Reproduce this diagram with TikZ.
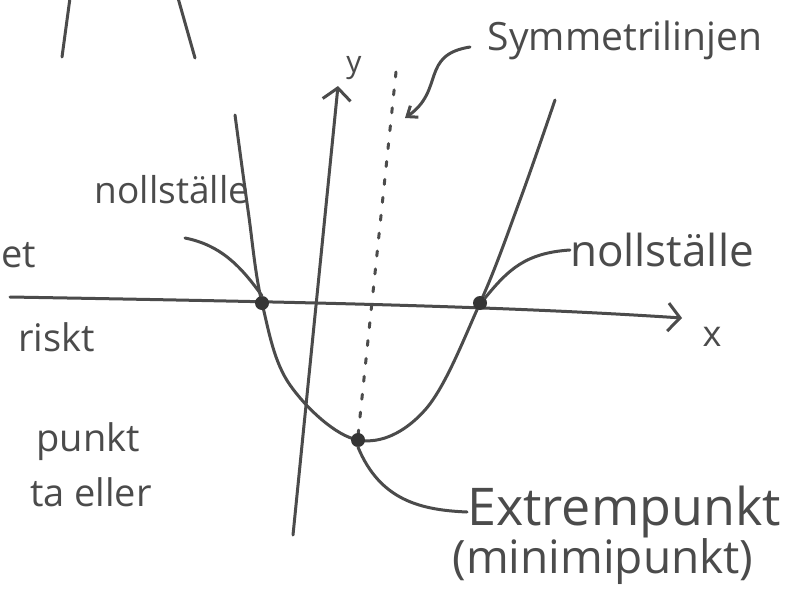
\documentclass[tikz,border=0pt]{standalone}
\usepackage{fontspec}
\setmainfont{Open Sans}
\usetikzlibrary{arrows.meta}
\definecolor{ink}{RGB}{75,75,75}
\begin{document}
\begin{tikzpicture}[x=1pt,y=-1pt,
  pen/.style={draw=ink,line width=3pt,line cap=round},
  hand/.style={text=ink,inner sep=0pt},
  blob/.style={circle,fill=ink!70!black,inner sep=0pt,minimum size=14pt},
  chev/.style={pen,-{Straight Barb[length=12pt,width=28pt,line width=3pt]}}]
\useasboundingbox (0,0) rectangle (799,594);
\clip (0,0) rectangle (799,594);
\fill[white] (0,0) rectangle (799,594);
% top fragments
\coordinate (t1a) at (70,-2); \coordinate (t1b) at (62,57);
\coordinate (t2a) at (178,-2); \coordinate (t2b) at (195,58);
\draw[pen] (t1a) -- (t1b);
\draw[pen] (t2a) -- (t2b);
% axes
\coordinate (xs) at (10,297);
\coordinate (xe) at (682,318);
\draw[chev] (xs) .. controls (300,302) and (500,306) .. (xe);
\node[hand,font=\fontsize{36}{40}\selectfont] (xl) at (712,337) {x};
\coordinate (ys) at (293,535);
\coordinate (ye) at (338,86);
\draw[chev] (ys) -- (ye);
\node[hand,font=\fontsize{30}{34}\selectfont] (yl) at (354,68) {y};
% symmetry line
\coordinate (s1) at (396,72);
\coordinate (s2) at (358,436);
\draw[pen,dash pattern=on 5pt off 13pt] (s1) -- (s2);
% parabola
\draw[pen] plot[smooth,tension=0.6] coordinates {(235,115) (248,210) (262,303) (290,385) (358,440) (425,410) (480,303) (520,200) (555,100)};
% dots
\node[blob] (z1) at (262,303) {};
\node[blob] (z2) at (480,303) {};
\node[blob] (ex) at (358,440) {};
% labels
\node[hand,font=\fontsize{39}{43}\selectfont] (sym) at (625,40) {Symmetrilinjen};
\draw[pen,-{Straight Barb[length=9pt,width=14pt,line width=3pt]}] (470,47) .. controls (420,55) and (445,90) .. (405,118);
\node[hand,font=\fontsize{37}{41}\selectfont] (n1) at (172,190) {nollställe};
\draw[pen] (185,238) .. controls (220,245) and (240,265) .. (z1.north);
\node[hand,font=\fontsize{44}{48}\selectfont] (n2) at (662,250) {nollställe};
\draw[pen] (z2.north east) .. controls (508,270) and (525,253) .. (n2.west);
\node[hand,font=\fontsize{52}{56}\selectfont] (e1) at (624,512) {Extrempunkt};
\node[hand,font=\fontsize{46}{50}\selectfont] (e2) at (603,562) {(minimipunkt)};
\draw[pen] (ex.south) .. controls (380,500) and (420,510) .. (e1.west);
% cropped left fragments
\node[hand,anchor=east,font=\fontsize{38}{42}\selectfont] (f1) at (36,255) {et};
\node[hand,anchor=east,font=\fontsize{38}{42}\selectfont] (f2) at (95,337) {riskt};
\node[hand,anchor=east,font=\fontsize{38}{42}\selectfont] (f3) at (140,442) {punkt};
\node[hand,anchor=east,font=\fontsize{38}{42}\selectfont] (f4) at (152,492) {ta eller};
\end{tikzpicture}
\end{document}
